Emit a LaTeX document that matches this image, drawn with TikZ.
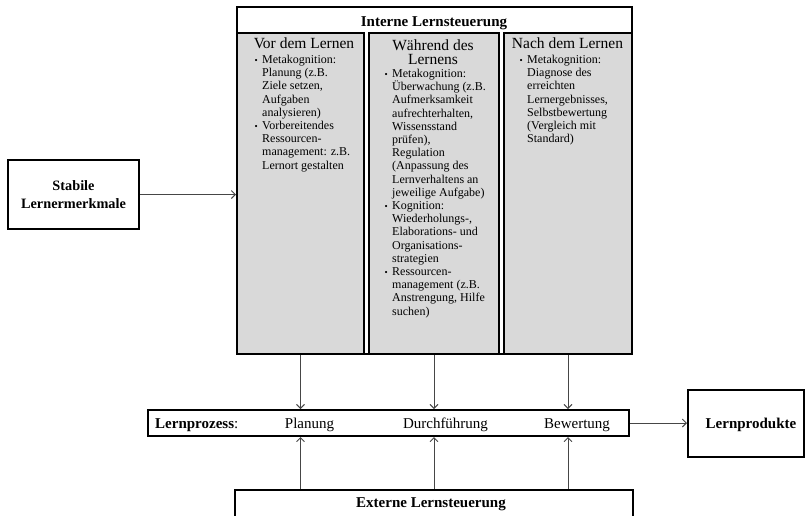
\documentclass[tikz,border=0pt]{standalone}
\usepackage{fontspec}
\setmainfont{Liberation Serif}
\usetikzlibrary{arrows.meta}
\definecolor{colgray}{RGB}{217,217,217}
\definecolor{arrowgray}{RGB}{70,70,70}
\newcommand\bul{\leavevmode\llap{\fontsize{9}{9}\selectfont\textbullet\hspace{4.5pt}}}
\begin{document}
\begin{tikzpicture}[x=1pt,y=-1pt,
  box/.style={draw=black,line width=2pt,inner sep=0pt,anchor=north west},
  colbox/.style={box,fill=colgray},
  conn/.style={draw=arrowgray,line width=0.9pt,-{Straight Barb[length=4pt,width=8pt]}},
  boldlbl/.style={font=\fontsize{15}{18}\selectfont\bfseries,inner sep=0pt},
  proclbl/.style={font=\fontsize{15}{18}\selectfont,inner sep=0pt,anchor=base},
  title/.style={font=\fontsize{15.5}{14}\selectfont,inner sep=0pt,anchor=base},
  bullets/.style={font=\fontsize{12}{13.2}\selectfont,inner sep=0pt,anchor=base west}
]
\useasboundingbox (0,0) rectangle (808,515);
\fill[white] (0,0) rectangle (808,515);

% Interne Lernsteuerung frame and columns
\node (intern) [box,minimum width=395pt,minimum height=347pt] at (236,6) {};
\node (c1) [colbox,minimum width=127pt,minimum height=321pt] at (236,32) {};
\node (c2) [colbox,minimum width=130pt,minimum height=321pt] at (368,32) {};
\node (c3) [colbox,minimum width=128pt,minimum height=321pt] at (503,32) {};
\node (interntxt) [boldlbl,anchor=base] at (434,26.5) {Interne Lernsteuerung};

% column titles
\node (t1) [title] at (304,48.3) {Vor dem Lernen};
\node (t2) [title] at (433,50.5) {\parbox[t]{125pt}{\centering Während des\\Lernens}};
\node (t3) [title] at (567.5,48.3) {Nach dem Lernen};

% column bullet texts
\node (b1) [bullets] at (262,63.5) {\parbox[t]{110pt}{%
\bul Metakognition:\\
Planung (z.B.\\
Ziele setzen,\\
Aufgaben\\
analysieren)\\
\bul Vorbereitendes\\
Ressourcen-\\
management: z.B.\\
Lernort gestalten}};
\node (b2) [bullets] at (392,77.5) {\parbox[t]{110pt}{%
\bul Metakognition:\\
Überwachung (z.B.\\
Aufmerksamkeit\\
aufrechterhalten,\\
Wissensstand\\
prüfen),\\
Regulation\\
(Anpassung des\\
Lernverhaltens an\\
jeweilige Aufgabe)\\
\bul Kognition:\\
Wiederholungs-,\\
Elaborations- und\\
Organisations-\\
strategien\\
\bul Ressourcen-\\
management (z.B.\\
Anstrengung, Hilfe\\
suchen)}};
\node (b3) [bullets] at (527,63.5) {\parbox[t]{110pt}{%
\bul Metakognition:\\
Diagnose des\\
erreichten\\
Lernergebnisses,\\
Selbstbewertung\\
(Vergleich mit\\
Standard)}};

% Stabile Lernermerkmale
\node (stab) [box,minimum width=131pt,minimum height=69pt,align=center,
  font=\fontsize{14.3}{18}\selectfont\bfseries] at (7,159) {Stabile\\Lernermerkmale};

% Lernprozess
\node (proc) [box,minimum width=481pt,minimum height=26pt] at (147,409) {};
\node (proctxt) [proclbl,anchor=base west] at (155,428) {\textbf{Lernprozess}:};
\node (plan) [proclbl] at (309.5,428) {Planung};
\node (durch) [proclbl] at (445.5,428) {Durchführung};
\node (bew) [proclbl] at (577,428) {Bewertung};

% Lernprodukte
\node (prod) [box,minimum width=116pt,minimum height=67pt] at (687,389) {};
\node (prodtxt) [boldlbl,anchor=base] at (751,428) {Lernprodukte};

% Externe Lernsteuerung
\node (ext) [box,minimum width=398pt,minimum height=40pt] at (234,489) {};
\node (exttxt) [boldlbl,anchor=base] at (431,507) {Externe Lernsteuerung};

% connectors
\draw[conn] (stab.east) -- (stab.east -| c1.west);
\draw[conn] (c1.south) -- (c1.south |- proc.north);
\draw[conn] (c2.south) -- (c2.south |- proc.north);
\draw[conn] (c3.south) -- (c3.south |- proc.north);
\draw[conn] (c1.south |- ext.north) -- (c1.south |- proc.south);
\draw[conn] (c2.south |- ext.north) -- (c2.south |- proc.south);
\draw[conn] (c3.south |- ext.north) -- (c3.south |- proc.south);
\draw[conn] (proc.east) -- (proc.east -| prod.west);
\end{tikzpicture}
\end{document}
